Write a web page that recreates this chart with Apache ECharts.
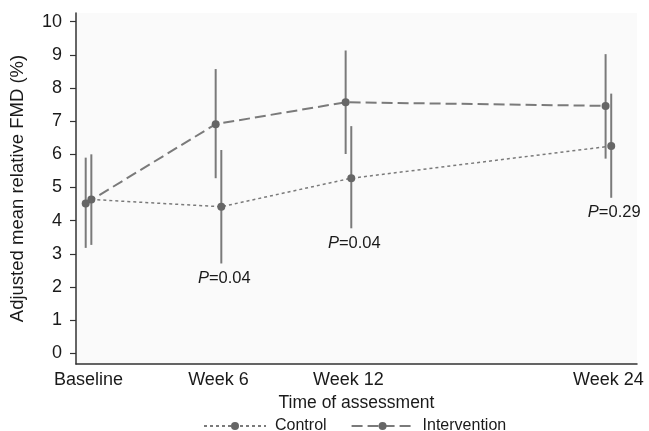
<!DOCTYPE html>
<html>
<head>
<meta charset="utf-8">
<script src="https://cdn.jsdelivr.net/npm/echarts@6/dist/echarts.min.js"></script>
<style>
html,body{margin:0;padding:0;background:#fff;}
#c{width:649px;height:431px;}
</style>
</head>
<body>
<div id="c"></div>
<script>
// ---- data ----
const weeks = [0, 6, 12, 24];
const weekLabels = ['Baseline', 'Week 6', 'Week 12', 'Week 24'];
const controlMean = [4.64, 4.42, 5.28, 6.25];
const controlLow  = [3.27, 2.71, 3.77, 4.69];
const controlHigh = [6.00, 6.13, 6.85, 7.83];
const interventionMean = [4.52, 6.91, 7.57, 7.46];
const interventionLow  = [3.18, 5.28, 6.01, 5.87];
const interventionHigh = [5.90, 8.57, 9.13, 9.02];
const pWeeks = [6, 12, 24];
const pValues = ['0.04', '0.04', '0.29'];
const yTicks = [0,1,2,3,4,5,6,7,8,9,10];

// ---- style constants ----
const JIT = 0.13;
const FONT = 'Liberation Sans, Arial, sans-serif';
const TXT = '#1a1a1a';
const GRAYM = '#666666';
const GRAYL = '#7a7a7a';

const ctrlPts = weeks.map((w,i)=>[w+JIT, controlMean[i]]);
const intPts  = weeks.map((w,i)=>[w-JIT, interventionMean[i]]);
const ctrlBars = weeks.map((w,i)=>[w+JIT, controlLow[i], controlHigh[i]]);
const intBars  = weeks.map((w,i)=>[w-JIT, interventionLow[i], interventionHigh[i]]);
const pData = pWeeks.map((w,i)=>{ const k = weeks.indexOf(w); return [w+JIT, controlLow[k], pValues[i]]; });

function barRender(params, api){
  const p1 = api.coord([api.value(0), api.value(1)]);
  const p2 = api.coord([api.value(0), api.value(2)]);
  return {type:'line', shape:{x1:p1[0], y1:p1[1], x2:p2[0], y2:p2[1]},
          style:{stroke:GRAYL, lineWidth:2}};
}
function pRender(params, api){
  const p = api.coord([api.value(0), api.value(1)]);
  const v = pData[params.dataIndex][2];
  return {type:'text', x:p[0]+3, y:p[1]+15,
    style:{text:'{i|P}{n|=' + v + '}', align:'center', verticalAlign:'middle',
      rich:{ i:{fontStyle:'italic', fontSize:16.5, fontFamily:FONT, fill:TXT, color:TXT},
             n:{fontSize:16.5, fontFamily:FONT, fill:TXT, color:TXT} },
      fontSize:16.5, fontFamily:FONT, fill:TXT}};
}

const chart = echarts.init(document.getElementById('c'), null, {renderer:'canvas'});
chart.setOption({
  animation:false,
  backgroundColor:'#ffffff',
  grid:{left:76, right:12, top:13, bottom:67, show:true, backgroundColor:'#fafafa', borderWidth:0},
  legend:{
    left:198, top:413, itemWidth:62, itemHeight:10, itemGap:24,
    data:['Control','Intervention'],
    textStyle:{fontFamily:FONT, fontSize:16, color:TXT, padding:[0,0,0,4]}
  },
  xAxis:{
    type:'value', min:-0.578, max:25.32,
    name:'Time of assessment', nameLocation:'middle', nameGap:30,
    nameTextStyle:{fontFamily:FONT, fontSize:17.5, color:TXT},
    splitLine:{show:false},
    axisLine:{show:true, onZero:false, lineStyle:{color:'#333', width:1.5}},
    axisTick:{show:false},
    axisLabel:{customValues:weeks, margin:7, fontFamily:FONT, fontSize:18, color:TXT,
      formatter:(v)=>{ const k = weeks.indexOf(Math.round(v)); return k>=0 ? weekLabels[k] : ''; }}
  },
  yAxis:{
    type:'value', min:-0.32, max:10.26,
    name:'Adjusted mean relative FMD (%)', nameLocation:'middle', nameGap:49,
    nameTextStyle:{fontFamily:FONT, fontSize:18.5, color:TXT},
    splitLine:{show:false},
    axisLine:{show:true, onZero:false, lineStyle:{color:'#333', width:1.5}},
    axisTick:{show:true, customValues:yTicks, length:6, lineStyle:{color:'#333', width:1.2}},
    axisLabel:{customValues:yTicks, margin:14, fontFamily:FONT, fontSize:18, color:TXT}
  },
  series:[
    {type:'custom', name:'ctrlBars', renderItem:barRender, data:ctrlBars, silent:true, z:1},
    {type:'custom', name:'intBars', renderItem:barRender, data:intBars, silent:true, z:1},
    {type:'line', name:'Control', data:ctrlPts, symbol:'circle', symbolSize:8,
     itemStyle:{color:GRAYM}, lineStyle:{color:GRAYL, width:1.5, type:[3,3]}, z:3},
    {type:'line', name:'Intervention', data:intPts, symbol:'circle', symbolSize:8,
     itemStyle:{color:GRAYM}, lineStyle:{color:GRAYL, width:2, type:[11,5]}, z:3},
    {type:'custom', name:'p', renderItem:pRender, data:pData.map(d=>[d[0],d[1]]), silent:true, z:4}
  ]
});
</script>
</body>
</html>
